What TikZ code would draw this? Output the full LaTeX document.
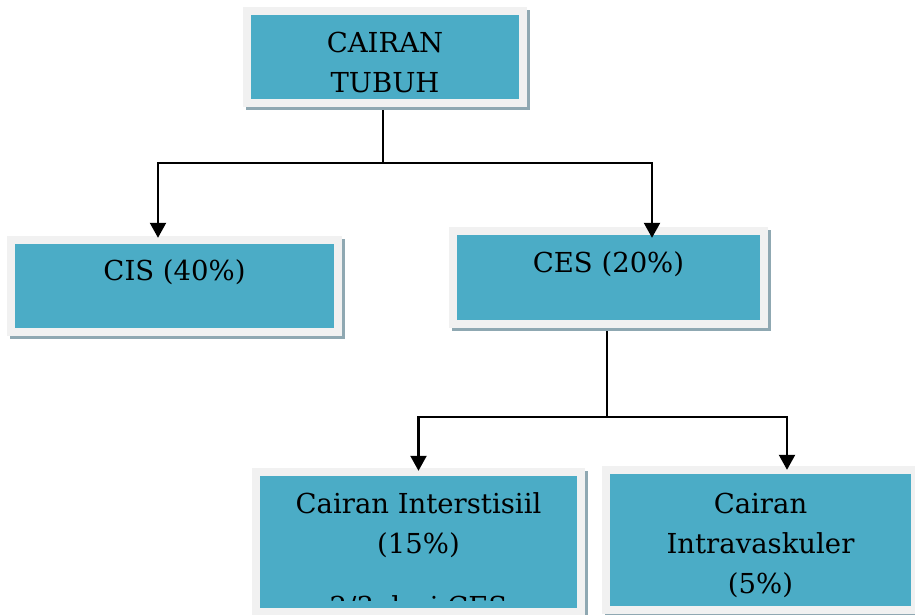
\documentclass[tikz,border=0pt]{standalone}
\usepackage{fontspec}
\setmainfont{DejaVu Serif}
\usetikzlibrary{arrows.meta}
\usetikzlibrary{positioning}
\usetikzlibrary{backgrounds}

\definecolor{boxteal}{RGB}{75,172,198}
\definecolor{boxframe}{RGB}{241,241,241}
\definecolor{boxshadow}{RGB}{143,168,178}

\begin{document}
\begin{tikzpicture}[x=1pt, y=-1pt,
    box/.style={fill=boxteal, inner sep=0pt},
    txt/.style={align=center, inner sep=0pt, font=\fontsize{27.5}{40}\selectfont},
    link/.style={line width=2.2pt},
    arr/.style={link, -{Triangle[length=15pt, width=16pt]}}]

    \clip (0,0) rectangle (915,615);

    \node[box, minimum width=268pt, minimum height=84pt] (tubuh) at (385,57) {};
    \node[box, minimum width=319pt, minimum height=84pt] (cis) at (174.5,286) {};
    \node[box, minimum width=303pt, minimum height=85pt] (ces) at (608.5,277.5) {};
    \node[box, minimum width=317pt, minimum height=132pt] (inter) at (418.5,542) {};
    \node[box, minimum width=301pt, minimum height=132pt] (intra) at (760.5,540) {};

    % frame and shadow
    \begin{scope}[on background layer]
    \foreach \b in {tubuh,cis,ces,inter,intra} {
        \fill[boxshadow] ([shift={(-5pt,5pt)}]\b.north west) rectangle ([shift={(11pt,-11pt)}]\b.south east);
        \fill[boxframe] ([shift={(-8pt,8pt)}]\b.north west) rectangle ([shift={(8pt,-8pt)}]\b.south east);
    }
    \end{scope}

    \node[txt, below=17pt of tubuh.north] (tubuhtxt) {CAIRAN\\TUBUH};
    \node[txt, below=16pt of cis.north] (cistxt) {CIS (40\%)};
    \node[txt, below=17pt of ces.north] (cestxt) {CES (20\%)};
    \node[txt, below=19pt of intra.north] (intratxt) {Cairan\\Intravaskuler\\(5\%)};
    \begin{scope}
        \clip (inter.north west) rectangle ([yshift=8pt]inter.south east);
        \node[txt, below=17pt of inter.north] (intertxt) {Cairan Interstisiil\\(15\%)\\[23pt]2/3 dari CES};
    \end{scope}

    \draw[link] ([xshift=-2pt, yshift=-11pt]tubuh.south) -- ++(0,53) coordinate (tubuhmid);
    \draw[arr] (tubuhmid) -| ([xshift=-16.5pt, yshift=6pt]cis.north);
    \draw[arr] (tubuhmid) -| ([xshift=43.5pt, yshift=-3pt]ces.north);

    \draw[link] ([xshift=-1.5pt, yshift=-11pt]ces.south) -- ++(0,86) coordinate (cesmid);
    \draw[arr] (cesmid) -| ([yshift=5pt]inter.north);
    \draw[arr] (cesmid) -| ([xshift=26.5pt, yshift=4pt]intra.north);
\end{tikzpicture}
\end{document}
